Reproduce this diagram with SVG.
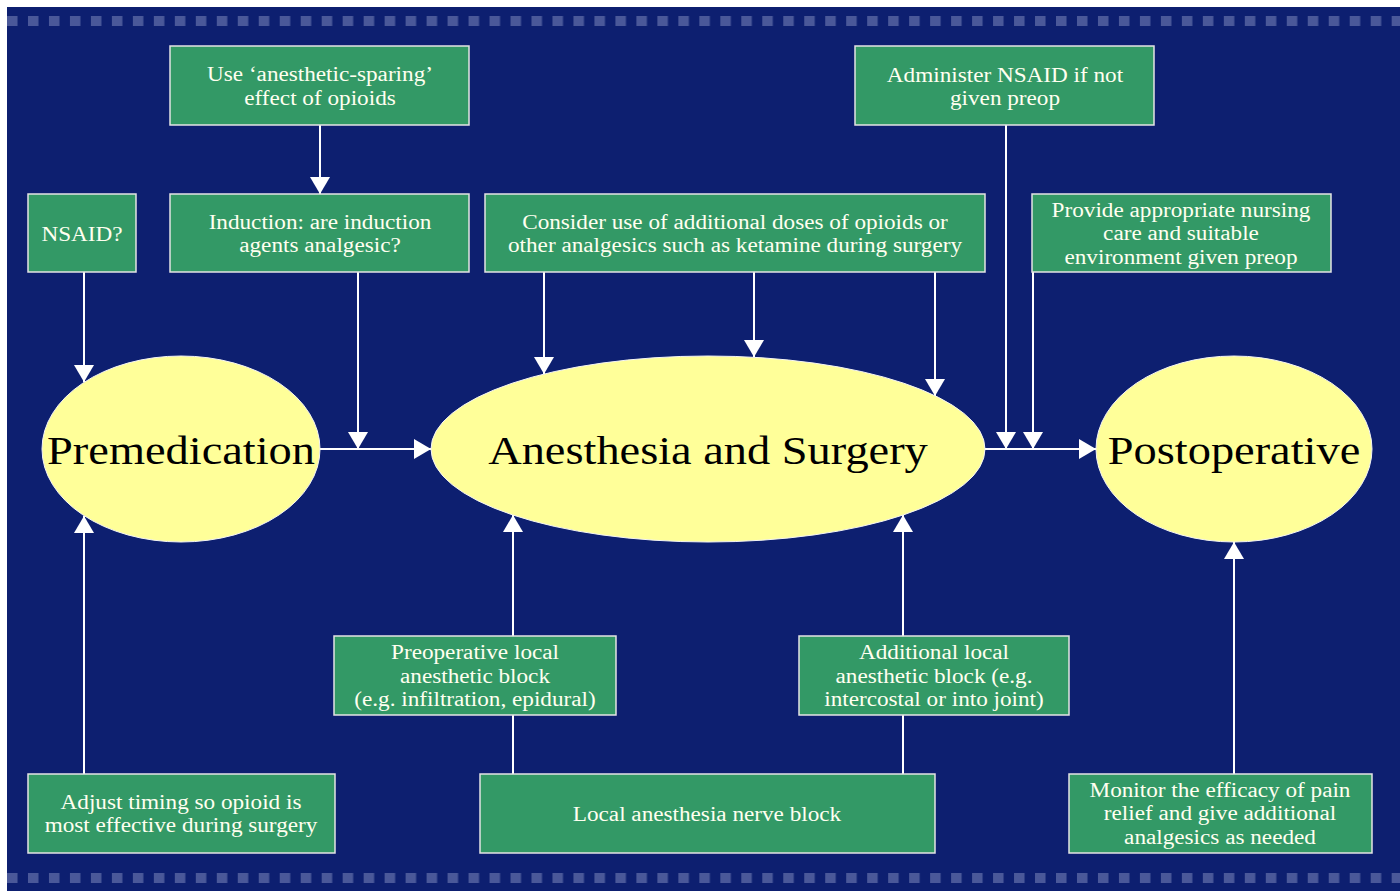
<svg xmlns="http://www.w3.org/2000/svg" width="1400" height="891" viewBox="0 0 1400 891">
<defs>
  <style>
    .box rect{fill:#339966;stroke:#e4e4e4;stroke-width:1.5}
    .box text{font-family:"Liberation Serif","Times New Roman",serif;font-size:20px;fill:#fffff0;text-anchor:middle}
    .ell ellipse{fill:#ffff99;stroke:#f4f4f4;stroke-width:1}
    .ell text{font-family:"Liberation Serif","Times New Roman",serif;font-size:40px;fill:#000000;text-anchor:middle}
    .conn path{fill:none;stroke:#ffffff;stroke-width:2}
    .dot{fill:#4a5899}
  </style>
  <marker id="arr" viewBox="0 0 17 20" refX="17" refY="10" markerWidth="17" markerHeight="20" markerUnits="userSpaceOnUse" orient="auto">
    <path d="M0,0 L17,10 L0,20 z" fill="#ffffff"/>
  </marker>
  <pattern id="dots" x="7" y="0" width="20.98" height="891" patternUnits="userSpaceOnUse">
    <rect x="0" y="16" width="10.5" height="10" class="dot"/>
    <rect x="0" y="873" width="10.5" height="10" class="dot"/>
  </pattern>
</defs>
<rect x="0" y="0" width="1400" height="891" fill="#ffffff"/>
<rect x="7" y="7" width="1393" height="884" fill="#0d1f70"/>
<rect x="7" y="0" width="1393" height="891" fill="url(#dots)"/>

<g class="conn">
  <path d="M320,125 V194" marker-end="url(#arr)"/>
  <path d="M84,272 V382" marker-end="url(#arr)"/>
  <path d="M358,272 V449" marker-end="url(#arr)"/>
  <path d="M320,449 H431" marker-end="url(#arr)"/>
  <path d="M544,272 V374" marker-end="url(#arr)"/>
  <path d="M754,272 V357" marker-end="url(#arr)"/>
  <path d="M935,272 V396" marker-end="url(#arr)"/>
  <path d="M985,449 H1096" marker-end="url(#arr)"/>
  <path d="M1006,125 V449" marker-end="url(#arr)"/>
  <path d="M1033,272 V449" marker-end="url(#arr)"/>
  <path d="M513,636 V515" marker-end="url(#arr)"/>
  <path d="M513,774 V715"/>
  <path d="M903,636 V515" marker-end="url(#arr)"/>
  <path d="M903,774 V715"/>
  <path d="M84,774 V516" marker-end="url(#arr)"/>
  <path d="M1234,774 V542" marker-end="url(#arr)"/>
</g>

<g id="premedication" class="ell">
  <ellipse cx="181" cy="449" rx="139" ry="93"/>
  <text transform="translate(181 0) scale(1.16 1)" x="0" y="464.5">Premedication</text>
</g>
<g id="anesthesia" class="ell">
  <ellipse cx="708" cy="449" rx="277" ry="93"/>
  <text transform="translate(708 0) scale(1.16 1)" x="0" y="464.5">Anesthesia and Surgery</text>
</g>
<g id="postoperative" class="ell">
  <ellipse cx="1234" cy="449" rx="138" ry="93"/>
  <text transform="translate(1234 0) scale(1.16 1)" x="0" y="464.5">Postoperative</text>
</g>

<g id="sparing" class="box">
  <rect x="170" y="46" width="299" height="79"/>
  <text transform="translate(320 0) scale(1.16 1)"><tspan x="0" y="81.5">Use ‘anesthetic-sparing’</tspan><tspan x="0" y="105.5">effect of opioids</tspan></text>
</g>
<g id="nsaid" class="box">
  <rect x="28" y="194" width="108" height="78"/>
  <text transform="translate(82 0) scale(1.16 1)"><tspan x="0" y="241.5">NSAID?</tspan></text>
</g>
<g id="induction" class="box">
  <rect x="170" y="194" width="299" height="78"/>
  <text transform="translate(320 0) scale(1.16 1)"><tspan x="0" y="229">Induction: are induction</tspan><tspan x="0" y="252.5">agents analgesic?</tspan></text>
</g>
<g id="consider" class="box">
  <rect x="485" y="194" width="500" height="78"/>
  <text transform="translate(735 0) scale(1.16 1)"><tspan x="0" y="229">Consider use of additional doses of opioids or</tspan><tspan x="0" y="252.5">other analgesics such as ketamine during surgery</tspan></text>
</g>
<g id="administer" class="box">
  <rect x="855" y="46" width="299" height="79"/>
  <text transform="translate(1005 0) scale(1.16 1)"><tspan x="0" y="82">Administer NSAID if not</tspan><tspan x="0" y="105.5">given preop</tspan></text>
</g>
<g id="nursing" class="box">
  <rect x="1032" y="194" width="299" height="78"/>
  <text transform="translate(1181 0) scale(1.16 1)"><tspan x="0" y="217">Provide appropriate nursing</tspan><tspan x="0" y="240.5">care and suitable</tspan><tspan x="0" y="264">environment given preop</tspan></text>
</g>
<g id="preoperative" class="box">
  <rect x="334" y="636" width="282" height="79"/>
  <text transform="translate(475 0) scale(1.16 1)"><tspan x="0" y="659.5">Preoperative local</tspan><tspan x="0" y="683">anesthetic block</tspan><tspan x="0" y="706.5">(e.g. infiltration, epidural)</tspan></text>
</g>
<g id="additional" class="box">
  <rect x="799" y="636" width="270" height="79"/>
  <text transform="translate(934 0) scale(1.16 1)"><tspan x="0" y="659.5">Additional local</tspan><tspan x="0" y="683">anesthetic block (e.g.</tspan><tspan x="0" y="706.5">intercostal or into joint)</tspan></text>
</g>
<g id="adjust" class="box">
  <rect x="28" y="774" width="307" height="79"/>
  <text transform="translate(181 0) scale(1.16 1)"><tspan x="0" y="809">Adjust timing so opioid is</tspan><tspan x="0" y="832.5">most effective during surgery</tspan></text>
</g>
<g id="localblock" class="box">
  <rect x="480" y="774" width="455" height="79"/>
  <text transform="translate(707 0) scale(1.16 1)"><tspan x="0" y="821">Local anesthesia nerve block</tspan></text>
</g>
<g id="monitor" class="box">
  <rect x="1069" y="774" width="303" height="79"/>
  <text transform="translate(1220 0) scale(1.16 1)"><tspan x="0" y="797">Monitor the efficacy of pain</tspan><tspan x="0" y="820.5">relief and give additional</tspan><tspan x="0" y="844">analgesics as needed</tspan></text>
</g>
</svg>
